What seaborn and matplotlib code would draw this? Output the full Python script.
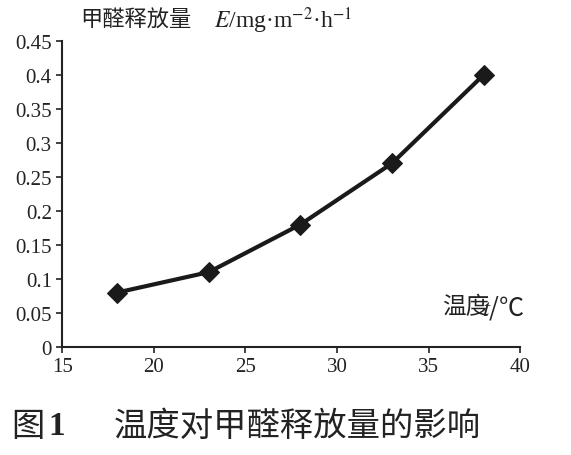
import matplotlib
matplotlib.use("Agg")
import matplotlib.pyplot as plt
import seaborn as sns
import pandas as pd

temps = [18, 23, 28, 33, 38]
release = [0.08, 0.11, 0.18, 0.27, 0.40]
xticks = [15, 20, 25, 30, 35, 40]
yticks = [0, 0.05, 0.1, 0.15, 0.2, 0.25, 0.3, 0.35, 0.4, 0.45]
ylabels = ["0", "0.05", "0.1", "0.15", "0.2", "0.25", "0.3", "0.35", "0.4", "0.45"]

sns.set_style("ticks")
plt.rcParams['font.family'] = ['Liberation Serif', 'Noto Sans CJK SC', 'DejaVu Sans']
plt.rcParams['mathtext.fontset'] = 'stix'

df = pd.DataFrame({"t": temps, "E": release})
fig = plt.figure(figsize=(5.71, 4.56), dpi=100)
ax = fig.add_axes([0.109, 0.237, 0.802, 0.671])
sns.lineplot(data=df, x="t", y="E", ax=ax, color="#1a1a1a", linewidth=3,
             marker="D", markersize=10, markeredgecolor="#1a1a1a")
ax.set_xlim(15, 40)
ax.set_ylim(0, 0.45)
ax.set_xticks(xticks)
ax.set_xticklabels([str(v) for v in xticks])
ax.set_yticks(yticks)
ax.set_yticklabels(ylabels)
ax.tick_params(labelsize=15, colors="#222", width=1.2, length=4)
for s in ["left", "bottom"]:
    ax.spines[s].set_linewidth(1.5)
    ax.spines[s].set_color("#222")
sns.despine(ax=ax)
ax.set_xlabel("")
ax.set_ylabel("")
cjk = ['Noto Sans CJK SC', 'DejaVu Sans']
fig.text(0.14, 0.955, "甲醛释放量", fontsize=16, va="center", color="#222", family=cjk)
fig.text(0.375, 0.955, r"$E$/mg·m$^{-2}$·h$^{-1}$", fontsize=17, va="center", color="#222")
fig.text(0.775, 0.325, "温度", fontsize=17, va="center", color="#222", family=cjk)
fig.text(0.845, 0.325, r"$t$/℃", fontsize=18, va="center", color="#222",
         family=['Noto Sans CJK SC', 'DejaVu Sans'])
fig.text(0.02, 0.065, "图", fontsize=24, va="center", color="#222", family=cjk)
fig.text(0.085, 0.065, "1", fontsize=24, va="center", color="#222", weight="bold")
fig.text(0.2, 0.065, "温度对甲醛释放量的影响", fontsize=24, va="center", color="#222", family=cjk)
fig.savefig("out.png", dpi=100)
